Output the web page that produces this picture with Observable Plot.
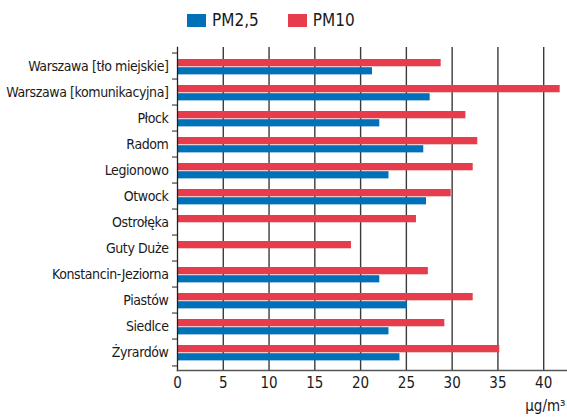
<!DOCTYPE html>
<html>
<head>
<meta charset="utf-8">
<script src="https://cdn.jsdelivr.net/npm/d3@7"></script>
<script src="https://cdn.jsdelivr.net/npm/@observablehq/plot@0.6"></script>
<style>
  html, body { margin: 0; padding: 0; background: #fff; }
  body { width: 567px; height: 419px; overflow: hidden; font-family: "DejaVu Sans Condensed", sans-serif; color: #1a1a1a; }
  #legend { height: 40px; display: flex; align-items: center; justify-content: flex-start; padding-left: 187px; box-sizing: border-box; font-size: 17px; }
  .item { display: flex; align-items: center; margin-right: 29px; }
  .sw { width: 19px; height: 13px; margin-right: 6px; }
</style>
</head>
<body>
<div id="legend"></div>
<div id="chart"></div>
<script>
const cities = ["Warszawa [tło miejskie]", "Warszawa [komunikacyjna]", "Płock", "Radom", "Legionowo", "Otwock", "Ostrołęka", "Guty Duże", "Konstancin-Jeziorna", "Piastów", "Siedlce", "Żyrardów"];
const pm25 = [21.3, 27.6, 22.1, 26.9, 23.1, 27.2, null, null, 22.1, 25.1, 23.1, 24.3];
const pm10 = [28.8, 41.8, 31.5, 32.8, 32.3, 29.9, 26.1, 19.0, 27.4, 32.3, 29.2, 35.2];
const seriesNames = ["PM2,5", "PM10"];
const seriesColors = ["#0070b8", "#e63c4c"];
const xTicks = [0, 5, 10, 15, 20, 25, 30, 35, 40];
const unitLabel = "µg/m³";

const legend = document.getElementById("legend");
seriesNames.forEach((s, i) => {
  const it = document.createElement("div"); it.className = "item";
  const sw = document.createElement("div"); sw.className = "sw"; sw.style.background = seriesColors[i];
  const t = document.createElement("span"); t.textContent = s;
  it.appendChild(sw); it.appendChild(t); legend.appendChild(it);
});

const data = cities.map((c, i) => ({city: c, pm25: pm25[i], pm10: pm10[i]}));

const width = 567, height = 379, marginTop = 7, marginBottom = 49, marginLeft = 177, marginRight = 0;
const bw = (height - marginTop - marginBottom) / cities.length;

const chart = Plot.plot({
  width, height, marginTop, marginBottom, marginLeft, marginRight,
  style: {fontFamily: '"DejaVu Sans Condensed", sans-serif', fontSize: "14px", color: "#1a1a1a"},
  x: {domain: [0, 42.6]},
  y: {domain: cities, padding: 0},
  marks: [
    Plot.gridX(xTicks.slice(1), {stroke: "#3a3a3a", strokeOpacity: 1, strokeWidth: 1.4}),
    Plot.barX(data, {x: "pm10", y: "city", fill: seriesColors[1], insetTop: 6, insetBottom: bw - 14.2}),
    Plot.barX(data.filter(d => d.pm25 != null), {x: "pm25", y: "city", fill: seriesColors[0], insetTop: 14.2, insetBottom: bw - 22.3}),
    Plot.frame({anchor: "left", stroke: "#222", strokeWidth: 1.3}),
    Plot.frame({anchor: "bottom", stroke: "#555", strokeWidth: 1.5}),
    Plot.axisY({tickSize: 0, tickPadding: 9, fontSize: 14, label: null}),
    Plot.axisY({tickSize: 5, text: null, dy: -bw / 2, label: null, stroke: "#222"}),
    Plot.axisY([cities[cities.length - 1]], {tickSize: 5, text: null, dy: bw / 2, label: null, stroke: "#222"}),
    Plot.axisX(xTicks, {tickSize: 0, tickPadding: 7, fontSize: 15, label: null}),
    Plot.text([unitLabel], {frameAnchor: "bottom-right", textAnchor: "end", dx: -2, dy: 40, fontSize: 15, fill: "#1a1a1a"}),
  ]
});
d3.select(chart).selectAll('g[aria-label="y-axis tick label"] text').style("letter-spacing", "-0.4px");
document.getElementById("chart").appendChild(chart);
</script>
</body>
</html>
